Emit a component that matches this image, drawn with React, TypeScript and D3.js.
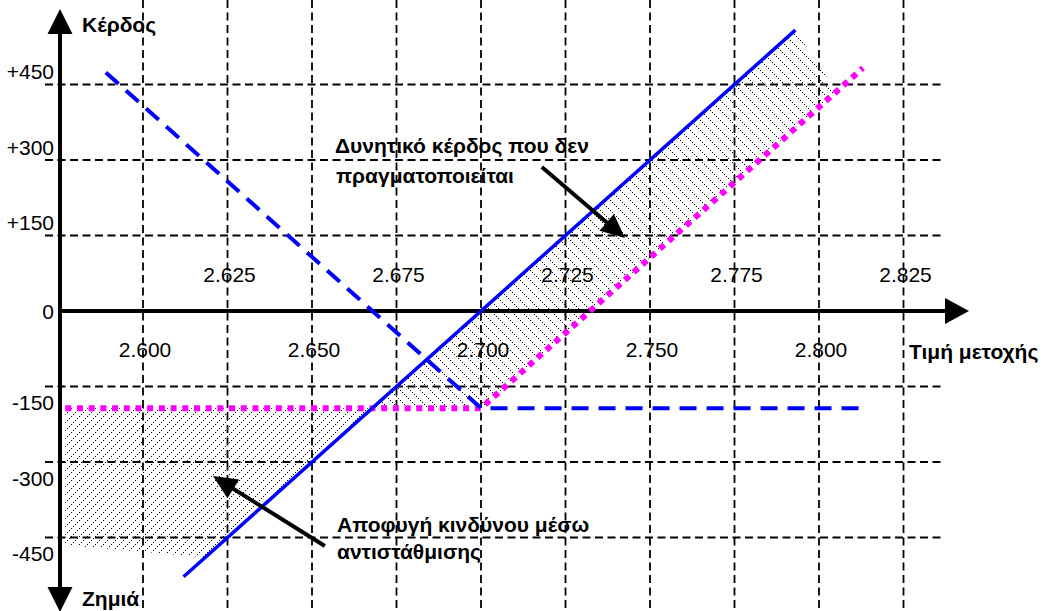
import React from "react";
import * as d3 from "d3";

// ---- data (price, profit) ----
const xTicksBelow = [2.6, 2.65, 2.7, 2.75, 2.8];
const xTicksAbove = [2.625, 2.675, 2.725, 2.775, 2.825];
const xTickLabelsBelow = ["2.600", "2.650", "2.700", "2.750", "2.800"];
const xTickLabelsAbove = ["2.625", "2.675", "2.725", "2.775", "2.825"];
const yTicks = [450, 300, 150, 0, -150, -300, -450];
const yTickLabels = ["+450", "+300", "+150", "0", "-150", "-300", "-450"];

const stockLine: [number, number][] = [[2.612, -528], [2.793, 558]];
const putLine: [number, number][] = [[2.589, 474], [2.7, -193], [2.813, -193]];
const hedgedLine: [number, number][] = [[2.577, -193], [2.7, -193], [2.813, 483]];

const foregoneArea: [number, number][] = [[2.668, -193], [2.793, 558], [2.805, 437], [2.7, -193]];
const avoidedArea: [number, number][] = [[2.577, -193], [2.668, -193], [2.6185, -489], [2.577, -465]];

const arrowForegone: [number, number][] = [[2.718, 286], [2.7426, 145]];
const arrowAvoided: [number, number][] = [[2.6538, -467], [2.6207, -328]];

const FONT = "'Liberation Sans', Arial, sans-serif";

export default function App() {
  const W = 1045, H = 611;
  const x = d3.scaleLinear().domain([2.6, 2.7]).range([143, 481]);
  const y = d3.scaleLinear().domain([0, 150]).range([311, 235.5]);
  const axisX = 60;
  const y0 = y(0);
  const line = d3.line<[number, number]>().x(d => x(d[0])).y(d => y(d[1]));
  const area = (pts: [number, number][]) => line(pts) + "Z";
  const gridX = [...xTicksBelow, ...xTicksAbove].sort();

  const arrowHead = (pts: [number, number][], len = 24, hw = 11) => {
    const [a, b] = pts;
    const x1 = x(a[0]), y1 = y(a[1]), x2 = x(b[0]), y2 = y(b[1]);
    const dx = x2 - x1, dy = y2 - y1;
    const L = Math.hypot(dx, dy);
    const ux = dx / L, uy = dy / L;
    const bx = x2 - ux * len, by = y2 - uy * len;
    return {
      shaft: `M${x1},${y1}L${bx + ux * 2},${by + uy * 2}`,
      head: `M${x2},${y2}L${bx - uy * hw},${by + ux * hw}L${bx + uy * hw},${by - ux * hw}Z`,
    };
  };
  const a1 = arrowHead(arrowForegone);
  const a2 = arrowHead(arrowAvoided);

  const back = 10, fwd = 8;
  const backDots = d3.range(0, back, 2);
  const fwdDots = d3.range(0, fwd, 2);

  return (
    <svg width={W} height={H} style={{ position: "absolute", left: 0, top: 0, background: "#fff" }} fontFamily={FONT}>
      <defs>
        <pattern id="hatchBack" patternUnits="userSpaceOnUse" x={0} y={0} width={back} height={back}>
          {backDots.map(k => <rect key={k} x={k} y={k} width={1} height={1} fill="#000" shapeRendering="crispEdges" />)}
        </pattern>
        <pattern id="hatchFwd" patternUnits="userSpaceOnUse" x={0} y={0} width={fwd} height={fwd}>
          {fwdDots.map(k => <rect key={k} x={fwd - 1 - k} y={k} width={1} height={1} fill="#000" shapeRendering="crispEdges" />)}
        </pattern>
      </defs>
      <rect width={W} height={H} fill="#fff" />

      {/* hatched areas */}
      <path d={area(foregoneArea)} fill="url(#hatchBack)" />
      <path d={area(avoidedArea)} fill="url(#hatchFwd)" />

      {/* grid */}
      {gridX.map((v, i) => (
        <line key={"gx" + i} x1={x(v)} x2={x(v)} y1={0} y2={H} stroke="#000" strokeWidth={1.8} strokeDasharray="8,4.5" />
      ))}
      {yTicks.filter(v => v !== 0).map((v, i) => (
        <line key={"gy" + i} x1={45} x2={943} y1={y(v)} y2={y(v)} stroke="#000" strokeWidth={1.8} strokeDasharray="8,4.5" />
      ))}

      {/* axes */}
      <line x1={axisX} x2={axisX} y1={30} y2={590} stroke="#000" strokeWidth={4} />
      <path d={`M${axisX},9L${axisX + 12.5},34L${axisX - 12.5},34Z`} fill="#000" />
      <path d={`M${axisX},612L${axisX + 12.5},587L${axisX - 12.5},587Z`} fill="#000" />
      <line x1={axisX} x2={948} y1={y0} y2={y0} stroke="#000" strokeWidth={4} />
      <path d={`M969,${y0}L945,${y0 - 13}L945,${y0 + 13}Z`} fill="#000" />

      {/* series */}
      <path d={line(hedgedLine)!} fill="none" stroke="#FF00FF" strokeWidth={6} strokeDasharray="6,5.7" />
      <path d={line(putLine)!} fill="none" stroke="#0000FF" strokeWidth={4} strokeDasharray="17,10" />
      <path d={line(stockLine)!} fill="none" stroke="#0000FF" strokeWidth={3.5} />

      {/* tick labels */}
      {xTicksBelow.map((v, i) => (
        <text key={"xb" + i} x={x(v) + 2} y={y0 + 46} fontSize={21} textAnchor="middle">{xTickLabelsBelow[i]}</text>
      ))}
      {xTicksAbove.map((v, i) => (
        <text key={"xa" + i} x={x(v) + 2} y={y0 - 29} fontSize={21} textAnchor="middle">{xTickLabelsAbove[i]}</text>
      ))}
      {yTicks.map((v, i) => (
        <text key={"yl" + i} x={54} y={y(v) + (v > 0 ? -5.5 : v === 0 ? 8 : 23.5)} fontSize={21} textAnchor="end">{yTickLabels[i]}</text>
      ))}

      {/* axis titles */}
      <text x={82} y={32} fontSize={21} fontWeight="bold">Κέρδος</text>
      <text x={82} y={606} fontSize={21} fontWeight="bold">Ζημιά</text>
      <text x={909} y={359} fontSize={21} fontWeight="bold">Τιμή μετοχής</text>

      {/* annotations */}
      <text x={335} y={153} fontSize={21} fontWeight="bold">Δυνητικό κέρδος που δεν</text>
      <text x={336} y={183} fontSize={21} fontWeight="bold">πραγματοποιείται</text>
      <text x={337} y={532} fontSize={21} fontWeight="bold">Αποφυγή κινδύνου μέσω</text>
      <text x={337} y={559} fontSize={21} fontWeight="bold">αντιστάθμισης</text>

      <path d={a1.shaft} stroke="#000" strokeWidth={4} fill="none" />
      <path d={a1.head} fill="#000" />
      <path d={a2.shaft} stroke="#000" strokeWidth={4} fill="none" />
      <path d={a2.head} fill="#000" />
    </svg>
  );
}
